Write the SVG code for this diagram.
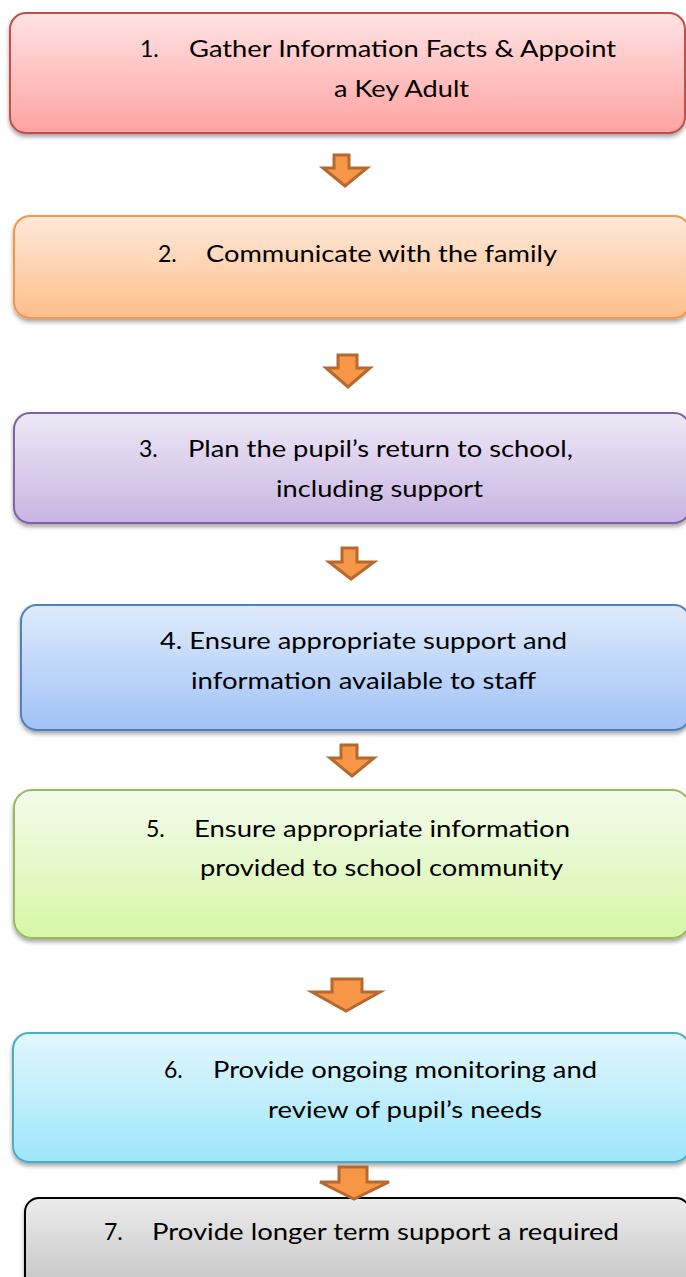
<svg xmlns="http://www.w3.org/2000/svg" width="686" height="1277" viewBox="0 0 686 1277">
<style>
.box{stroke-width:2;filter:url(#sh)}
.t{font-family:Lato,"Open Sans",sans-serif;font-size:23px;fill:#000}
.arr{fill:#f79646;stroke:#b6692f;stroke-width:3;stroke-linejoin:miter}
</style>
<defs>
<filter id="sh" x="-5%" y="-10%" width="110%" height="130%">
<feDropShadow dx="0" dy="3" stdDeviation="2" flood-color="#000" flood-opacity="0.35"/>
</filter>
<linearGradient id="g1" x1="0" y1="0" x2="0" y2="1"><stop offset="0" stop-color="#ffe3e3"/><stop offset="1" stop-color="#ffa2a2"/></linearGradient>
<linearGradient id="g2" x1="0" y1="0" x2="0" y2="1"><stop offset="0" stop-color="#fee9da"/><stop offset="1" stop-color="#fdbf8c"/></linearGradient>
<linearGradient id="g3" x1="0" y1="0" x2="0" y2="1"><stop offset="0" stop-color="#eee8f6"/><stop offset="1" stop-color="#c8b5e3"/></linearGradient>
<linearGradient id="g4" x1="0" y1="0" x2="0" y2="1"><stop offset="0" stop-color="#dfebfc"/><stop offset="1" stop-color="#a1c2f6"/></linearGradient>
<linearGradient id="g5" x1="0" y1="0" x2="0" y2="1"><stop offset="0" stop-color="#f3fbec"/><stop offset="1" stop-color="#d7f7a8"/></linearGradient>
<linearGradient id="g6" x1="0" y1="0" x2="0" y2="1"><stop offset="0" stop-color="#e2f7fd"/><stop offset="1" stop-color="#9ee6fa"/></linearGradient>
<linearGradient id="g7" x1="0" y1="0" x2="0" y2="1"><stop offset="0" stop-color="#ececec"/><stop offset="1" stop-color="#bdbdbd"/></linearGradient>
</defs>
<rect width="686" height="1277" fill="#fff"/>

<g id="node1">
<rect class="box" x="10" y="13" width="675" height="120" rx="16" fill="url(#g1)" stroke="#c0504d"/>
<text class="t" x="140" y="57">1.</text>
<text class="t" x="189" y="57" textLength="427" lengthAdjust="spacingAndGlyphs">Gather Information Facts &amp; Appoint</text>
<text class="t" x="334" y="97" textLength="135" lengthAdjust="spacingAndGlyphs">a Key Adult</text>
</g>

<g id="node2">
<rect class="box" x="14" y="216" width="676" height="102" rx="16" fill="url(#g2)" stroke="#f79646"/>
<text class="t" x="158" y="262">2.</text>
<text class="t" x="206" y="262" textLength="351" lengthAdjust="spacingAndGlyphs">Communicate with the family</text>
</g>

<g id="node3">
<rect class="box" x="14" y="413" width="676" height="110" rx="16" fill="url(#g3)" stroke="#8064a2"/>
<text class="t" x="139" y="457">3.</text>
<text class="t" x="188" y="457" textLength="385" lengthAdjust="spacingAndGlyphs">Plan the pupil’s return to school,</text>
<text class="t" x="276" y="497" textLength="207" lengthAdjust="spacingAndGlyphs">including support</text>
</g>

<g id="node4">
<rect class="box" x="21" y="605" width="669" height="125" rx="16" fill="url(#g4)" stroke="#4f81bd"/>
<text class="t" x="160" y="649" textLength="407" lengthAdjust="spacingAndGlyphs">4. Ensure appropriate support and</text>
<text class="t" x="191" y="689" textLength="345" lengthAdjust="spacingAndGlyphs">information available to staff</text>
</g>

<g id="node5">
<rect class="box" x="14" y="790" width="676" height="148" rx="18" fill="url(#g5)" stroke="#9bbb59"/>
<text class="t" x="146" y="837">5.</text>
<text class="t" x="194" y="837" textLength="376" lengthAdjust="spacingAndGlyphs">Ensure appropriate information</text>
<text class="t" x="200" y="876" textLength="363" lengthAdjust="spacingAndGlyphs">provided to school community</text>
</g>

<g id="node6">
<rect class="box" x="13" y="1033" width="677" height="129" rx="16" fill="url(#g6)" stroke="#4bacc6"/>
<text class="t" x="164" y="1078">6.</text>
<text class="t" x="213" y="1078" textLength="384" lengthAdjust="spacingAndGlyphs">Provide ongoing monitoring and</text>
<text class="t" x="268" y="1118" textLength="274" lengthAdjust="spacingAndGlyphs">review of pupil’s needs</text>
</g>

<g id="node7">
<rect class="box" x="25" y="1198" width="665" height="110" rx="14" fill="url(#g7)" stroke="#000"/>
<text class="t" x="104" y="1240">7.</text>
<text class="t" x="152" y="1240" textLength="467" lengthAdjust="spacingAndGlyphs">Provide longer term support a required</text>
</g>

<g id="connectors">
<polygon class="arr" points="334,155 349,155 349,168 367,168 345,186 323,168 334,168"/>
<polygon class="arr" points="338,355 357,355 357,368 370,368 348,387 326,368 338,368"/>
<polygon class="arr" points="342,548 357,548 357,562 374,562 351,579 329,562 342,562"/>
<polygon class="arr" points="341,745 357,745 357,758 374,758 352,776 330,758 341,758"/>
<polygon class="arr" points="332,979 362,979 362,992 380,992 346,1011 312,992 332,992"/>
<polygon class="arr" points="339,1167 367,1167 367,1182 389,1182 354,1199 320,1182 339,1182"/>
</g>
</svg>
